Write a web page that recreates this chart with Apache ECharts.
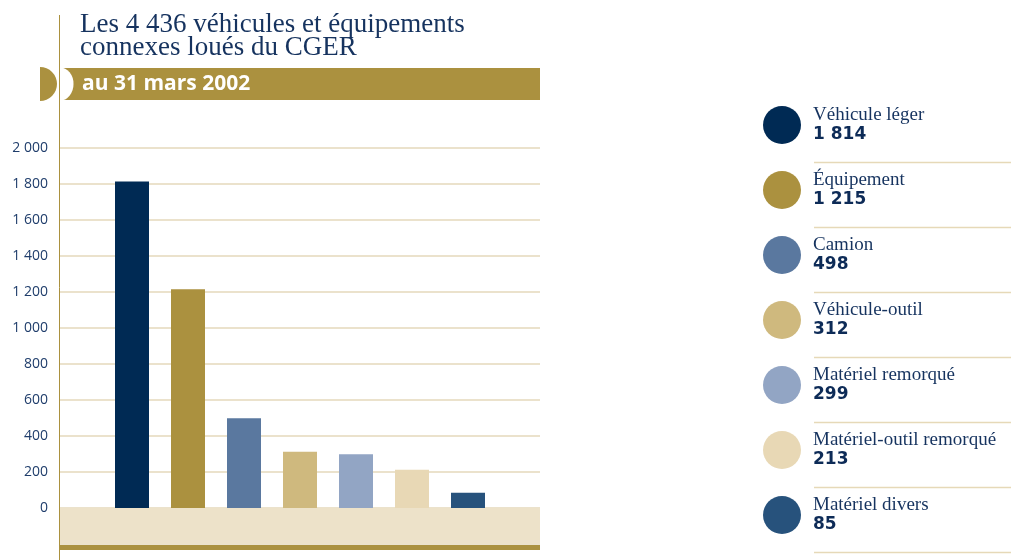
<!DOCTYPE html>
<html><head><meta charset="utf-8">
<script src="https://cdn.jsdelivr.net/npm/echarts@6/dist/echarts.min.js"></script>
<style>html,body{margin:0;padding:0;background:#fff}#c{width:1011px;height:560px}</style>
</head><body><div id="c"></div>
<script>
const categories = ['Véhicule léger','Équipement','Camion','Véhicule-outil','Matériel remorqué','Matériel-outil remorqué','Matériel divers'];
const values = [1814, 1215, 498, 312, 299, 213, 85];
const colors = ['#002a54','#ab913f','#5a789f','#cfb97e','#92a5c4','#e8d8b5','#27527c'];
const yTicks = [0, 200, 400, 600, 800, 1000, 1200, 1400, 1600, 1800, 2000];
const titleLines = ['Les 4 436 véhicules et équipements', 'connexes loués du CGER'];
const subtitle = 'au 31 mars 2002';

const fmt = n => String(n).replace(/\B(?=(\d{3})+(?!\d))/g, ' ');
const GOLD = '#ab913f';
const NAVY = '#16335f';

const chart = echarts.init(document.getElementById('c'), null, {renderer: 'canvas'});

const series = categories.map((name, i) => ({
  type: 'bar', name,
  data: [[i, values[i]]],
  barWidth: 34, barGap: '-100%',
  itemStyle: {color: colors[i]},
  silent: true, animation: false,
  markArea: i === 0 ? {
    silent: true,
    itemStyle: {color: '#ede2c9'},
    data: [[{yAxis: -200}, {yAxis: 0}]]
  } : undefined
}));

const separators = categories.map((c, k) => ({
  type: 'line', silent: true,
  shape: {x1: 814, y1: 162.5 + 65 * k, x2: 1011, y2: 162.5 + 65 * k},
  style: {stroke: '#e6d9b8', lineWidth: 1.5}
}));

chart.setOption({
  animation: false,
  title: {
    text: titleLines.join('\n'), left: 80, top: 13, padding: 0,
    textStyle: {fontFamily: 'Liberation Serif', fontSize: 27, fontWeight: 'normal', color: NAVY, lineHeight: 23}
  },
  grid: {left: 60, right: 471, top: 148, bottom: 16},
  xAxis: {
    type: 'value', min: -9 / 7, max: 51 / 7,
    axisLabel: {show: false}, axisTick: {show: false}, splitLine: {show: false},
    offset: 3,
    axisLine: {show: true, onZero: false, lineStyle: {color: GOLD, width: 5, cap: 'butt'}}
  },
  yAxis: {
    type: 'value', min: -200, max: yTicks[yTicks.length - 1], interval: 200,
    axisLine: {show: false}, axisTick: {show: false},
    splitLine: {lineStyle: {color: '#e5d9bb', width: 1.5}},
    axisLabel: {
      formatter: v => (yTicks.indexOf(v) >= 0 ? fmt(v) : ''),
      color: '#1f3d6b', fontFamily: 'Open Sans', fontSize: 14, margin: 12
    }
  },
  legend: {
    orient: 'vertical', left: 758, top: 101,
    itemWidth: 52, itemHeight: 38, itemGap: 27, icon: 'circle',
    selectedMode: false,
    data: categories,
    formatter: name => `{n|${name}}\n{v|${fmt(values[categories.indexOf(name)])}}`,
    textStyle: {
      rich: {
        n: {fontFamily: 'Liberation Serif', fontSize: 19, color: NAVY, lineHeight: 19},
        v: {fontFamily: 'DejaVu Sans', fontWeight: 'bold', fontSize: 17, color: '#0d2b57', lineHeight: 19}
      }
    }
  },
  graphic: [
    {type: 'sector', silent: true, shape: {cx: 40, cy: 84, r0: 0, r: 17, startAngle: -Math.PI / 2, endAngle: Math.PI / 2}, style: {fill: GOLD}},
    {type: 'rect', silent: true, shape: {x: 60, y: 68, width: 480, height: 32}, style: {fill: GOLD}},
    {type: 'sector', silent: true, shape: {cx: 0, cy: 0, r0: 0, r: 16.5, startAngle: -Math.PI / 2, endAngle: Math.PI / 2}, x: 60, y: 84, scaleX: 0.82, style: {fill: '#ffffff'}, z: 10},
    {type: 'text', silent: true, x: 82, y: 84, z: 11, style: {text: subtitle, fill: '#ffffff', font: 'bold 21px "Open Sans"', textVerticalAlign: 'middle'}},
    {type: 'line', silent: true, z: 20, shape: {x1: 59.5, y1: 15, x2: 59.5, y2: 560}, style: {stroke: GOLD, lineWidth: 1}},
    ...separators
  ],
  series
});
</script>
</body></html>
